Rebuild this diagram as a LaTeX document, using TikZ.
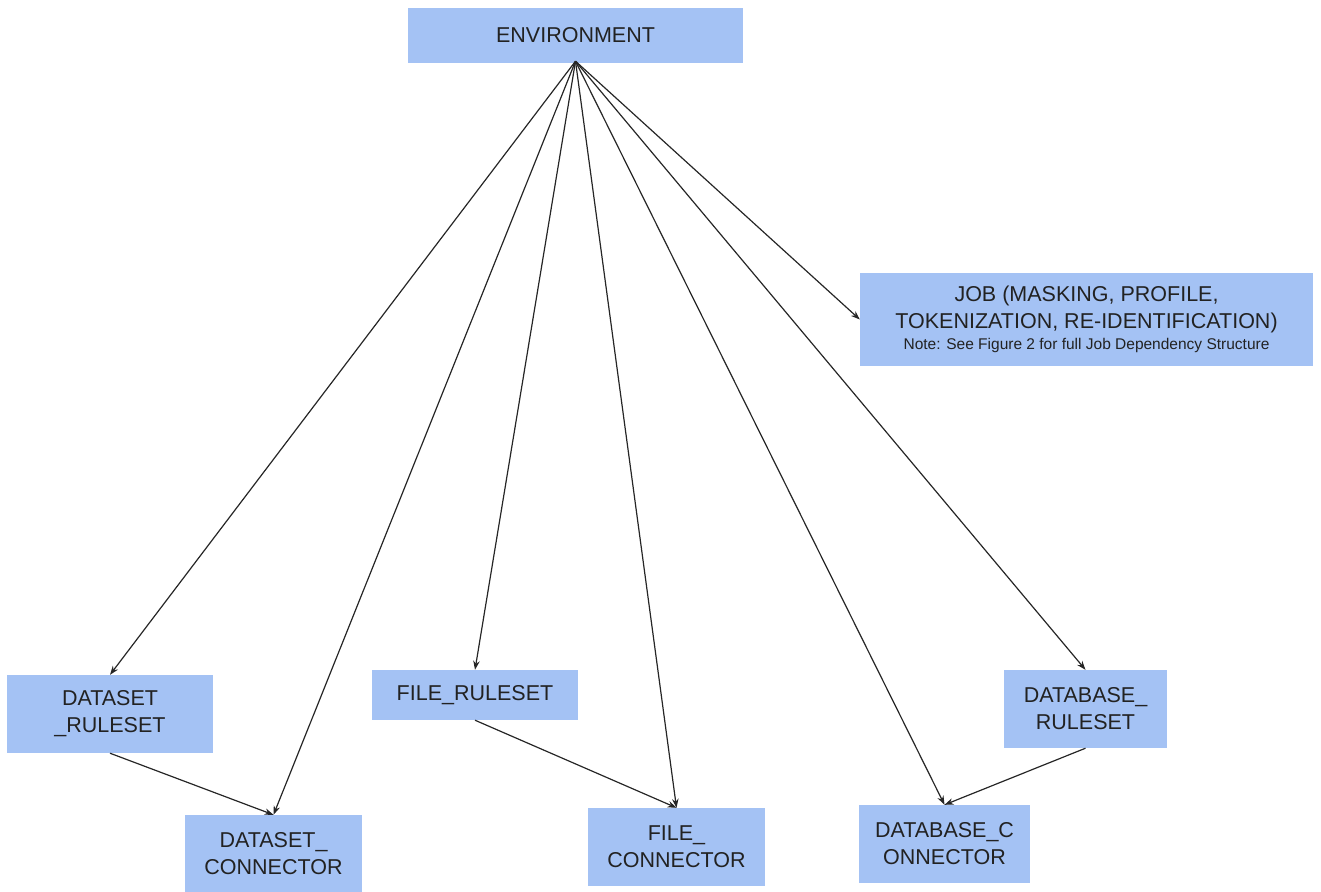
\documentclass[tikz,border=0pt]{standalone}
\usepackage{fontspec}
\setmainfont{Liberation Sans}
\usetikzlibrary{arrows.meta}
\definecolor{boxblue}{HTML}{A4C2F4}
\definecolor{txt}{HTML}{222222}
\begin{document}
\begin{tikzpicture}[x=1pt,y=-1pt,
  box/.style={fill=boxblue, draw=none, inner sep=0pt, align=center, text=txt,
    font=\fontsize{21.5}{27}\selectfont},
  conn/.style={draw=black!85, line width=1.2pt, -{Stealth[length=9pt,width=6.5pt]}}]
\useasboundingbox (0,0) rectangle (1321,891);
\node[box, minimum width=335pt, minimum height=55pt] (env) at (575.5,35.5) {ENVIRONMENT};
\node[box, minimum width=453pt, minimum height=93pt] (job) at (1086.5,319.5)
  {JOB (MASKING, PROFILE,\\TOKENIZATION, RE-IDENTIFICATION)\\[-6pt]{\fontsize{15.5}{18}\selectfont Note: See Figure 2 for full Job Dependency Structure}};
\node[box, minimum width=206pt, minimum height=78pt] (dsr) at (110,714) {DATASET\\\_RULESET};
\node[box, minimum width=177pt, minimum height=78pt] (dsc) at (273.5,854) {DATASET\_\\CONNECTOR};
\node[box, minimum width=206pt, minimum height=50pt] (fr) at (475,695) {FILE\_RULESET};
\node[box, minimum width=177pt, minimum height=78pt] (fc) at (676.5,847) {FILE\_\\CONNECTOR};
\node[box, minimum width=163pt, minimum height=78pt] (dbr) at (1085.5,709) {DATABASE\_\\RULESET};
\node[box, minimum width=171pt, minimum height=78pt] (dbc) at (944.5,844) {DATABASE\_C\\ONNECTOR};
\coordinate (src) at ([yshift=2pt]env.south);
\draw[conn] (src) -- (dsr.north);
\draw[conn] (src) -- (dsc.north);
\draw[conn] (src) -- (fr.north);
\draw[conn] (src) -- (fc.north);
\draw[conn] (src) -- (dbc.north);
\draw[conn] (src) -- (dbr.north);
\draw[conn] (src) -- (job.west);
\draw[conn] (dsr.south) -- (dsc.north);
\draw[conn] (fr.south) -- (fc.north);
\draw[conn] (dbr.south) -- (dbc.north);
\end{tikzpicture}
\end{document}
